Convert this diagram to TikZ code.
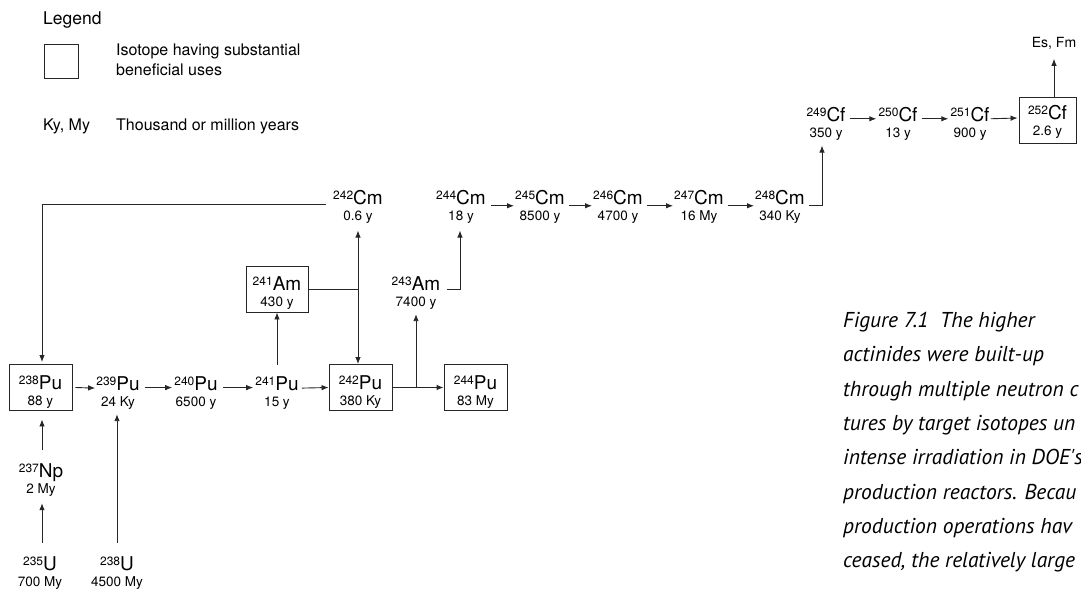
\documentclass[tikz,border=0pt]{standalone}
\usepackage{fontspec}
\setmainfont{TeX Gyre Heros}
\newfontfamily\capfont{PT Sans}
\usetikzlibrary{arrows.meta,calc}
\newcommand{\el}[2]{{\fontsize{19}{19}\selectfont\raisebox{5pt}{\fontsize{12}{12}\selectfont #1}#2}}
\tikzset{
  iso/.style={inner sep=0pt, anchor=north, align=center, font=\fontsize{13.5}{16}\selectfont},
  isobox/.style={draw=black!85, line width=0.9pt, inner sep=0pt, align=center, font=\fontsize{13.5}{16}\selectfont, minimum width=63pt, minimum height=46pt},
  lbl/.style={inner sep=0pt, font=\fontsize{16}{20}\selectfont},
  arr/.style={draw=black!85, line width=0.9pt, -{Latex[length=7pt,width=5.5pt]}},
  ln/.style={draw=black!85, line width=0.9pt},
  capt/.style={inner sep=0pt, anchor=north west, align=left, font=\capfont\itshape\fontsize{21.5}{34.3}\selectfont}
}
\begin{document}
\begin{tikzpicture}[x=1pt,y=-1pt]
\useasboundingbox (0,0) rectangle (1081,589);
\clip (0,0) rectangle (1081,589);
% legend
\node[lbl, anchor=base west, font=\fontsize{17.5}{20}\selectfont] (legend) at (43,24) {Legend};
\node[draw=black!85, line width=0.9pt, minimum width=34pt, minimum height=34pt, inner sep=0pt] (lbox) at (61,61) {};
\node[lbl, anchor=north west, align=left] (ltext) at (116,43.5) {Isotope having substantial\\beneficial uses};
\node[lbl, anchor=base west] (kymy) at (43,130) {Ky, My};
\node[lbl, anchor=base west] (kytext) at (116,130) {Thousand or million years};
% Pu row
\node[isobox] (p238) at (40.5,387.5) {\el{238}{Pu}\rule{0pt}{23pt}\\88 y};
\node[iso] (p239) at (118,376) {\el{239}{Pu}\\24 Ky};
\node[iso] (p240) at (196,376) {\el{240}{Pu}\\6500 y};
\node[iso] (p241) at (277,376) {\el{241}{Pu}\\15 y};
\node[isobox] (p242) at (360.5,387.5) {\el{242}{Pu}\rule{0pt}{23pt}\\380 Ky};
\node[isobox] (p244) at (475.5,387.5) {\el{244}{Pu}\rule{0pt}{23pt}\\83 My};
% Am
\node[isobox, minimum width=62pt] (a241) at (277,289) {\el{241}{Am}\rule{0pt}{21pt}\\430 y};
\node[iso] (a243) at (416,276) {\el{243}{Am}\\7400 y};
% Cm row
\node[iso] (c242) at (358,190) {\el{242}{Cm}\\0.6 y};
\node[iso] (c244) at (461,190) {\el{244}{Cm}\\18 y};
\node[iso] (c245) at (540,190) {\el{245}{Cm}\\8500 y};
\node[iso] (c246) at (618,190) {\el{246}{Cm}\\4700 y};
\node[iso] (c247) at (699,190) {\el{247}{Cm}\\16 My};
\node[iso] (c248) at (780,190) {\el{248}{Cm}\\340 Ky};
% Cf row
\node[iso] (f249) at (826,107) {\el{249}{Cf}\\350 y};
\node[iso] (f250) at (898,107) {\el{250}{Cf}\\13 y};
\node[iso] (f251) at (970,107) {\el{251}{Cf}\\900 y};
\node[isobox, minimum width=57pt] (f252) at (1047.5,120) {\el{252}{Cf}\rule{0pt}{17pt}\\2.6 y};
\node[inner sep=0pt, font=\fontsize{14}{14}\selectfont] (esfm) at (1054,43) {Es, Fm};
% bottom
\node[iso] (np237) at (41,463) {\el{237}{Np}\\2 My};
\node[iso] (u235) at (40,556) {\el{235}{U}\\700 My};
\node[iso] (u238) at (117,556) {\el{238}{U}\\4500 My};
% caption (cut at the right edge as in the reference)
\node[capt] (cap) at (843,312) {Figure 7.1\ \ The higher\\actinides were built-up\\through multiple neutron c\\tures by target isotopes un\\intense irradiation in DOE's\\production reactors. Becau\\production operations hav\\ceased, the relatively large};
% connectors
\draw[arr] ($(p238.east)+(3,0)$) -- ($(p239.west)+(-1,-4.5)$);
\draw[arr] ($(p239.east)+(5,-5)$) -- ($(p240.west)+(-2,-5)$);
\draw[arr] ($(p240.east)+(5,-5)$) -- ($(p241.west)+(-2,-5)$);
\draw[arr] ($(p241.east)+(3,-4.5)$) -- (p242.west);
\draw[arr] (p242.east) -- (p244.west);
\draw[arr] (p242.east -| a243.south) -- ($(a243.south)+(0,5)$);
\draw[arr] ($(p241.north)+(0,-11)$) -- (a241.south);
\draw[ln] (a241.east) -- (a241.east -| c242.south);
\draw[arr] (a241.east -| c242.south) -- ($(c242.south)+(0,7)$);
\draw[arr] (a241.east -| c242.south) -- (c242.south |- p242.north);
\draw[arr] ($(c242.west)+(-7,-2)$) -| ($(p238.north)+(1.5,-2)$);
\draw[arr] ($(a243.east)+(7,-3)$) -| ($(c244.south)+(-1,7)$);
\draw[arr] ($(c244.east)+(5,-1)$) -- ($(c245.west)+(-1,-1)$);
\draw[arr] ($(c245.east)+(4,-1)$) -- ($(c246.west)+(-1,-1)$);
\draw[arr] ($(c246.east)+(4,-1)$) -- ($(c247.west)+(-1,-1)$);
\draw[arr] ($(c247.east)+(4,-1)$) -- ($(c248.west)+(-1,-1)$);
\draw[arr] ($(c248.east)+(4,-1)$) -| ($(f249.south)+(-4,5)$);
\draw[arr] ($(f249.east)+(4,-5)$) -- ($(f250.west)+(-2,-5)$);
\draw[arr] ($(f250.east)+(4,-5)$) -- ($(f251.west)+(-2,-5)$);
\draw[arr] ($(f251.east)+(1,-5)$) -- ($(f252.west)+(-1,-2)$);
\draw[arr] (f252.north -| esfm.south) -- ($(esfm.south)+(0,9.5)$);
\draw[arr] ($(np237.north)+(1,-13)$) -- ($(p238.south)+(1.5,8.5)$);
\draw[arr] ($(u235.north)+(2,-13)$) -- ($(np237.south)+(1,7)$);
\draw[arr] ($(u238.north)+(0,-13)$) -- ($(p239.south)+(-1,5)$);
\end{tikzpicture}
\end{document}
